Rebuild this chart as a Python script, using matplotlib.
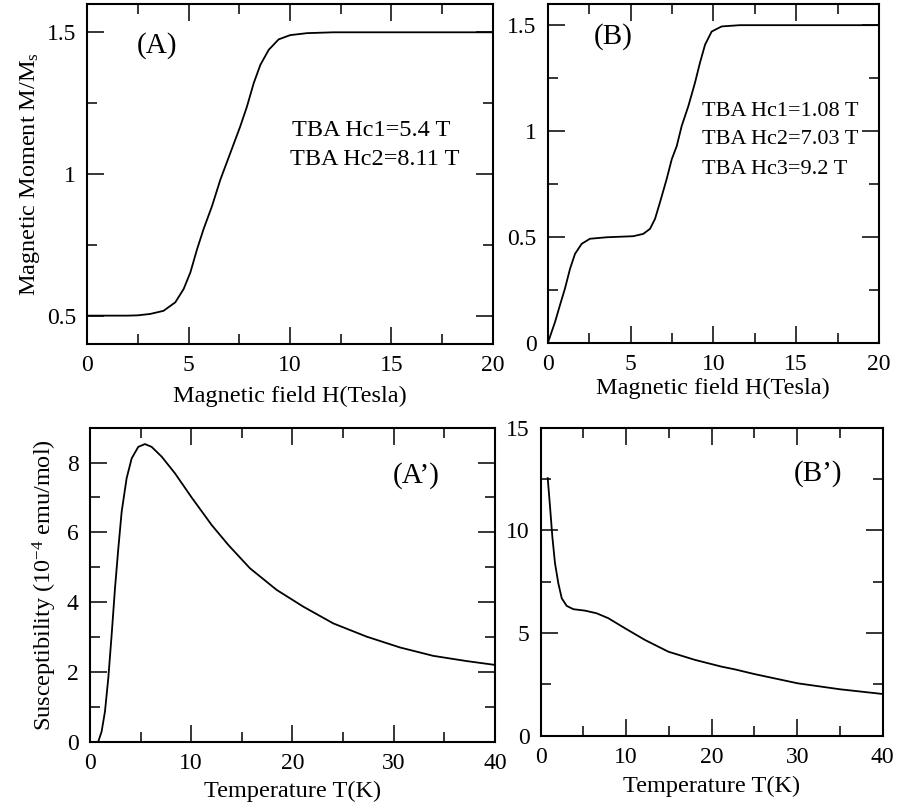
import numpy as np
import matplotlib.pyplot as plt
from matplotlib.ticker import MultipleLocator

plt.rcParams['font.family'] = ['Liberation Serif', 'DejaVu Serif']
plt.rcParams['mathtext.fontset'] = 'custom'
plt.rcParams['mathtext.rm'] = 'Liberation Serif'
plt.rcParams['mathtext.it'] = 'Liberation Serif:italic'

# (A) magnetization, TBA Hc1=5.4 T, Hc2=8.11 T
hA = [0, 1, 2, 2.5, 3.12, 3.77, 4.35, 4.76, 5.09, 5.42, 5.74, 6.16, 6.57, 7.06,
      7.55, 7.88, 8.21, 8.54, 8.95, 9.44, 10.01, 10.84, 12.15, 16, 20]
mA = [0.5, 0.5, 0.5, 0.501, 0.506, 0.517, 0.547, 0.594, 0.652, 0.734, 0.805,
      0.887, 0.98, 1.074, 1.168, 1.238, 1.32, 1.385, 1.438, 1.475, 1.49, 1.497,
      1.5, 1.5, 1.5]

# (B) magnetization, three critical fields
hB = [0, 0.44, 0.74, 1.04, 1.35, 1.65, 2.05, 2.55, 3.56, 5.17, 5.77, 6.18, 6.48,
      6.78, 7.18, 7.49, 7.79, 8.09, 8.49, 8.89, 9.19, 9.5, 9.9, 10.5, 11.6, 15, 20]
mB = [0, 0.10, 0.18, 0.258, 0.352, 0.422, 0.469, 0.493, 0.5, 0.505, 0.516, 0.54,
      0.587, 0.665, 0.774, 0.868, 0.93, 1.025, 1.118, 1.228, 1.322, 1.408, 1.47,
      1.494, 1.5, 1.5, 1.5]

# (A') susceptibility
tA = [0.82, 1.15, 1.48, 1.81, 2.14, 2.47, 2.8, 3.13, 3.62, 4.12, 4.77, 5.43,
      6.09, 7.08, 8.4, 10.04, 12.02, 13.66, 15.8, 18.44, 21.07, 24.03, 27.33,
      30.62, 33.9, 37.2, 40]
chiA = [0.0, 0.29, 0.86, 1.82, 3.06, 4.39, 5.54, 6.59, 7.55, 8.12, 8.45, 8.53,
        8.45, 8.17, 7.69, 7.0, 6.21, 5.64, 4.97, 4.35, 3.87, 3.39, 3.01, 2.70,
        2.46, 2.31, 2.20]

# (B') susceptibility
tB = [0.82, 1.09, 1.36, 1.67, 2.06, 2.46, 3.04, 3.82, 5.18, 6.55, 7.91, 9.86,
      12.2, 14.93, 18.05, 21.17, 22.7, 25, 30.06, 35, 40]
chiB = [12.54, 11.15, 9.69, 8.4, 7.42, 6.69, 6.32, 6.16, 6.09, 5.96, 5.72, 5.23,
        4.66, 4.09, 3.69, 3.36, 3.23, 3.0, 2.55, 2.26, 2.03]

ticksA = [0.5, 1, 1.5]
ticklabA = ['0.5', '1', '1.5']
ticksB = [0, 0.5, 1, 1.5]
ticklabB = ['0', '0.5', '1', '1.5']

fs = 17.5
tfs = 17
pfs = 21
lw = 1.3


def style(ax, xmaj, xmin, ymaj, ymin):
    ax.xaxis.set_major_locator(MultipleLocator(xmaj))
    ax.xaxis.set_minor_locator(MultipleLocator(xmin))
    ax.yaxis.set_major_locator(MultipleLocator(ymaj))
    ax.yaxis.set_minor_locator(MultipleLocator(ymin))
    ax.tick_params(which='both', direction='in', top=True, right=True,
                   labelsize=tfs, width=1.1)
    ax.tick_params(which='major', length=12.5, pad=8)
    ax.tick_params(which='minor', length=7.5)
    for s in ax.spines.values():
        s.set_linewidth(1.5)


fig = plt.figure(figsize=(8.97, 8.08), dpi=100)

ax1 = fig.add_axes([0.097, 0.5743, 0.4526, 0.4208])
ax1.plot(hA, mA, color='black', linewidth=lw)
ax1.set_xlim(0, 20)
ax1.set_ylim(0.4, 1.6)
style(ax1, 5, 2.5, 0.5, 0.25)
ax1.set_yticks(ticksA)
ax1.set_yticklabels(ticklabA)
ax1.set_xlabel('Magnetic field H(Tesla)', fontsize=fs)
ax1.xaxis.set_label_coords(0.5, -0.1235)
ax1.set_ylabel('Magnetic Moment M/M$_\\mathrm{s}$', fontsize=fs, labelpad=3)
ax1.text(0.123, 0.879, '(A)', transform=ax1.transAxes, fontsize=pfs, va='center')
ax1.text(10.09, 1.133, 'TBA Hc1=5.4 T', fontsize=fs, va='baseline')
ax1.text(10.01, 1.030, 'TBA Hc2=8.11 T', fontsize=fs, va='baseline')

ax2 = fig.add_axes([0.6106, 0.5751, 0.3693, 0.42])
ax2.plot(hB, mB, color='black', linewidth=lw)
ax2.set_xlim(0, 20)
ax2.set_ylim(0, 1.6)
style(ax2, 5, 2.5, 0.5, 0.25)
ax2.set_yticks(ticksB)
ax2.set_yticklabels(ticklabB)
ax2.set_xlabel('Magnetic field H(Tesla)', fontsize=fs)
ax2.xaxis.set_label_coords(0.5, -0.102)
ax2.text(0.14, 0.903, '(B)', transform=ax2.transAxes, fontsize=pfs, va='center')
ax2.text(9.30, 1.0715, 'TBA Hc1=1.08 T', fontsize=16, va='baseline')
ax2.text(9.33, 0.9387, 'TBA Hc2=7.03 T', fontsize=16, va='baseline')
ax2.text(9.30, 0.798, 'TBA Hc3=9.2 T', fontsize=16, va='baseline')

ax3 = fig.add_axes([0.1003, 0.0821, 0.4515, 0.3886])
ax3.plot(tA, chiA, color='black', linewidth=lw)
ax3.set_xlim(0, 40)
ax3.set_ylim(0, 9)
style(ax3, 10, 5, 2, 1)
ax3.set_xlabel('Temperature T(K)', fontsize=fs)
ax3.xaxis.set_label_coords(0.5, -0.125)
ax3.set_ylabel('Susceptibility (10$^{-4}$ emu/mol)', fontsize=fs, labelpad=6)
ax3.text(0.747, 0.849, "(A\u2019)", transform=ax3.transAxes, fontsize=pfs, va='center')

ax4 = fig.add_axes([0.6028, 0.0895, 0.3813, 0.3812])
ax4.plot(tB, chiB, color='black', linewidth=lw)
ax4.set_xlim(0, 40)
ax4.set_ylim(0, 15)
style(ax4, 10, 5, 5, 2.5)
ax4.set_xlabel('Temperature T(K)', fontsize=fs)
ax4.xaxis.set_label_coords(0.5, -0.131)
ax4.text(0.741, 0.85, "(B\u2019)", transform=ax4.transAxes, fontsize=pfs, va='center')

fig.savefig('out.png', dpi=100)
